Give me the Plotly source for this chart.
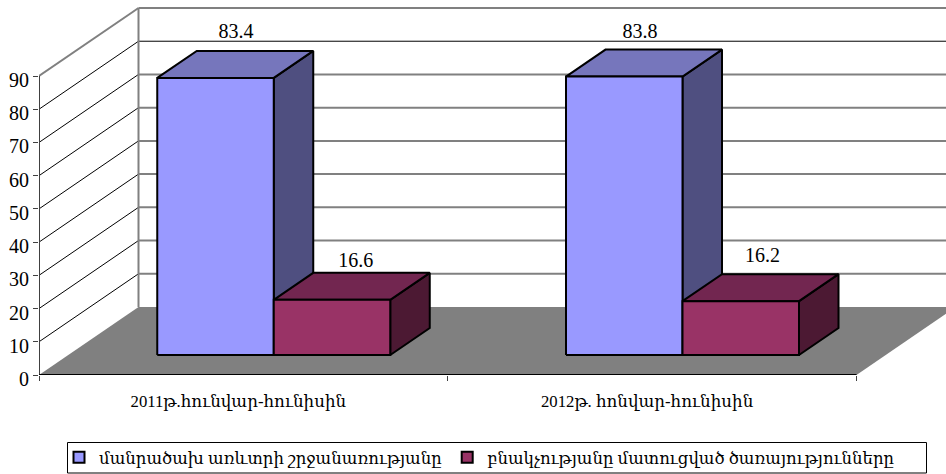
import plotly.graph_objects as go

# ---- data ----
categories = ["2011թ.հունվար-հունիսին", "2012թ. հոնվար-հունիսին"]
series_names = ["մանրածախ առևտրի շրջանառությանը", "բնակչությանը մատուցված ծառայությունները"]
retail = [83.4, 83.8]
services = [16.6, 16.2]
y_ticks = [0, 10, 20, 30, 40, 50, 60, 70, 80, 90]

# ---- oblique projection (axis units) ----
PX_PER_VAL = 299 / 90
PX_PER_CAT = 408.75
DX = 99.5 / PX_PER_CAT      # full chart depth, in categories
DY = 68 / PX_PER_VAL        # full chart depth, in value units
Z0, Z1 = 0.294, 0.691       # bar depth limits
GAP = 89 / PX_PER_CAT
BAR_W = 116.5 / PX_PER_CAT
YMAX = 375 / PX_PER_VAL
XMAX = 907 / PX_PER_CAT
SERIF = "Liberation Serif, DejaVu Serif, serif"


def pr(c, v, z=0.0):
    return c + z * DX, v + z * DY


def poly(points, fill, name=None, width=2, line="#000000"):
    xs, ys = zip(*points)
    return go.Scatter(x=list(xs) + [xs[0]], y=list(ys) + [ys[0]], mode="lines", fill="toself",
                      fillcolor=fill, line=dict(color=line, width=width), showlegend=False,
                      hoverinfo="skip", name=name)


def seg(a, b, color, width):
    return go.Scatter(x=[a[0], b[0]], y=[a[1], b[1]], mode="lines", showlegend=False, hoverinfo="skip",
                      line=dict(color=color, width=width))


fig = go.Figure()
n = len(categories)
top = y_ticks[-1]

# floor
fig.add_trace(poly([pr(0, 0), pr(n, 0), pr(n, 0, 1), pr(0, 0, 1)], "#808080", width=0, line="#808080"))

# walls
for v in y_ticks[1:]:
    is_black = v == 80
    fig.add_trace(seg(pr(0, v, 1), pr(n + 0.1, v, 1), "#000000" if is_black else "#808080", 1 if is_black else 2))
    if v != top:
        fig.add_trace(seg(pr(0, v), pr(0, v, 1), "#000000", 1))
fig.add_trace(seg(pr(0, top), pr(0, top, 1), "#808080", 2))
fig.add_trace(seg(pr(0, 0, 1), pr(0, top, 1), "#808080", 2))
fig.add_trace(seg(pr(0, 0), pr(0, top), "#404040", 2))
fig.add_trace(seg(pr(0, 0), pr(n, 0), "#000000", 2))

# bars
for i in range(n):
    for j, (vals, front, topc, side) in enumerate([
        (retail, "#9999FF", "#7676BC", "#4F4F80"),
        (services, "#993366", "#722650", "#4C1933"),
    ]):
        l = i + GAP + j * BAR_W
        r = l + BAR_W
        v = vals[i]
        fig.add_trace(poly([pr(r, 0, Z0), pr(r, 0, Z1), pr(r, v, Z1), pr(r, v, Z0)], side))
        fig.add_trace(poly([pr(l, v, Z0), pr(r, v, Z0), pr(r, v, Z1), pr(l, v, Z1)], topc))
        fig.add_trace(poly([pr(l, 0, Z0), pr(r, 0, Z0), pr(r, v, Z0), pr(l, v, Z0)], front))

# data labels
label_dx = [0.002, 0.01, -0.01, 0.005]
label_dy = [5.5, 3.3, 5.0, 5.1]
lx, ly, lt = [], [], []
k = 0
for i in range(n):
    for j, vals in enumerate([retail, services]):
        cx = i + GAP + (j + 0.5) * BAR_W
        x, y = pr(cx, vals[i], Z1)
        x -= (Z1 - Z0) / 2 * DX
        lx.append(x + label_dx[k])
        ly.append(y + label_dy[k])
        lt.append(f"{vals[i]:.1f}")
        k += 1
fig.add_trace(go.Scatter(x=lx, y=ly, text=lt, mode="text", textposition="middle center", showlegend=False,
                         hoverinfo="skip", textfont=dict(family=SERIF, size=20, color="#000000")))

# legend entries
for name, col in zip(series_names, ["#9999FF", "#993366"]):
    fig.add_trace(go.Scatter(x=[None], y=[None], mode="markers", name=name,
                             marker=dict(symbol="square", size=11, color=col, line=dict(color="#000000", width=2))))

fig.update_layout(
    width=946, height=474, autosize=False,
    margin=dict(l=39, r=0, t=0, b=99, autoexpand=False),
    paper_bgcolor="#FFFFFF", plot_bgcolor="#FFFFFF",
    font=dict(family=SERIF, size=20, color="#000000"),
    legend=dict(orientation="h", x=(59 - 39) / 907, y=-(440 - 375) / 375, xanchor="left", yanchor="top",
                borderwidth=0, bgcolor="rgba(0,0,0,0)",
                font=dict(family=SERIF, size=16.5), itemclick=False, itemdoubleclick=False),
    shapes=[dict(type="rect", xref="paper", yref="paper", x0=(67.5 - 39) / 907, x1=(926.5 - 39) / 907,
                 y0=-(473 - 375) / 375, y1=-(442.5 - 375) / 375, line=dict(color="#000000", width=1),
                 fillcolor="rgba(0,0,0,0)", layer="above")],
    xaxis=dict(range=[0, XMAX], tickvals=[0.5, 1.5], ticktext=categories, ticks="", showgrid=False, zeroline=False,
               showline=False, ticklabelstandoff=14, ticklabelshift=-5, tickfont=dict(family=SERIF, size=16.7),
               minor=dict(tickvals=[0, 1, 2], ticks="outside", ticklen=5, tickwidth=1, tickcolor="#404040"),
               fixedrange=True),
    yaxis=dict(range=[0, YMAX], tickvals=y_ticks, ticks="outside", ticklen=5, tickwidth=1, tickcolor="#404040",
               showgrid=False, zeroline=False, showline=False, ticklabelshift=4, ticklabelstandoff=0,
               tickfont=dict(family=SERIF, size=20), fixedrange=True),
)
fig.write_html("out.html", config=dict(displayModeBar=False),
               post_script="document.body.style.margin='0';document.documentElement.style.overflow='hidden';")
